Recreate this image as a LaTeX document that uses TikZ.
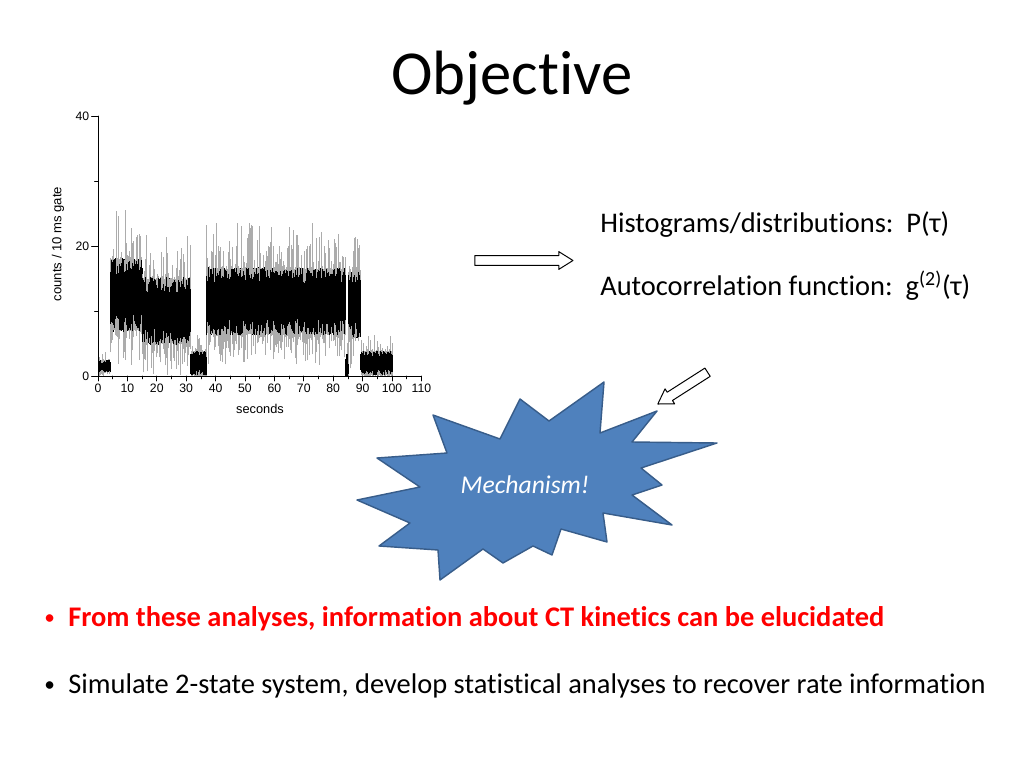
\documentclass[tikz,border=0pt]{standalone}
\usepackage{fontspec}
\setmainfont{Carlito}[Ligatures=CommonOff]
\newfontfamily\plotfont{Liberation Sans}
\usetikzlibrary{shapes.arrows}
\definecolor{burstfill}{RGB}{79,129,189}
\definecolor{burstline}{RGB}{56,93,138}
\begin{document}
\begin{tikzpicture}[x=0.703125pt, y=-0.703125pt, line join=round, line cap=round,
	hollow/.style={single arrow, draw, line width=0.7pt, fill=white, minimum width=12pt,
		minimum height=#1, inner sep=3.1pt, single arrow head extend=2.8pt, single arrow tip angle=64},
	tick/.style={font=\plotfont\fontsize{8.6}{10}\selectfont, inner sep=1.5pt},
	body/.style={anchor=base west, font=\fontsize{20}{24}\selectfont, inner sep=0pt}]
	\fill[white] (0,0) rectangle (1024,768);
	\useasboundingbox (0,0) rectangle (1024,768);
	\pgfmathsetseed{42}
	% trace: seconds along x, counts along y
	\begin{scope}[shift={(98,376)}, x=2.067pt, y=4.570pt]
		\foreach \i in {0,...,999}{
			\pgfmathsetmacro\t{0.1*\i+0.05}
			\pgfmathsetmacro\lvl{\t<4.2 ? 1.5 : (\t<15 ? 12.5 : (\t<31.3 ? 10 : (\t<36.8 ? 2 : (\t<84.2 ? 11.5 : (\t<85 ? 1.5 : (\t<89.3 ? 11 : 2))))))}
			\pgfmathsetmacro\wid{\t<4.2 ? 1 : (\lvl<3 ? 2 : (\t<15 ? 6 : 5.5))}
			\pgfmathtruncatemacro\spike{mod(\i,3)==0}
			\ifnum\spike=1
			\pgfmathsetmacro\glo{max(0,\lvl-\wid*(0.9+0.9*rnd^2))}
			\pgfmathsetmacro\ghi{\lvl+\wid*(0.9+1.3*rnd^3)}
			\draw[gray!65, line width=0.3pt, line cap=butt] (\t,\glo) -- (\t,\ghi);
			\fi
			\pgfmathsetmacro\blo{max(0,\lvl-\wid*(0.5+0.45*rnd))}
			\pgfmathsetmacro\bhi{\lvl+\wid*(0.5+0.45*rnd)}
			\draw[black, line width=0.3pt, line cap=butt] (\t,\blo) -- (\t,\bhi);
		}
		\draw[line width=0.5pt] (0,40) -- (0,0) -- (110,0);
		\foreach \v in {0,20,40}
		\draw[line width=0.5pt] (0,\v) -- ++(-4.5pt,0) node[left, tick] (ylab\v) {\v};
		\foreach \v in {10,30}
		\draw[line width=0.5pt] (0,\v) -- ++(-2.5pt,0);
		\foreach \v in {0,10,...,110}
		\draw[line width=0.5pt] (\v,0) -- ++(0,-3.5pt) node[below, tick] (xlab\v) {\v};
		\foreach \v in {5,15,...,105}
		\draw[line width=0.5pt] (\v,0) -- ++(0,-2pt);
	\end{scope}
	\path
	(58,244) node[rotate=90, font=\plotfont\fontsize{9.2}{10}\selectfont] (ytitle) {counts / 10 ms gate}
	(260,409) node[font=\plotfont\fontsize{9}{10}\selectfont] (xtitle) {seconds};
	\node[anchor=base, font=\fontsize{44}{50}\selectfont, inner sep=0pt] (title) at (512,95) {Objective};
	\path
	(600,233) node[body] (hist) {Histograms/distributions:\ \ P(τ)}
	(600,296) node[body] (acf) {Autocorrelation function:\ \ g\textsuperscript{(2)}(τ)};
	\node[hollow=69pt] (toright) at (520,260.5) {};
	\node[hollow=41.5pt, rotate=212.6] (todown) at (686,386) {};
	% burst
	\draw[fill=burstfill, draw=burstline, line width=1pt]
	(433,415) -- (500,439) -- (520,399) -- (549,421) -- (604,382) -- (600,433) -- (657,411)
	-- (632,442) -- (717,443) -- (641,468) -- (662,485) -- (632,495) -- (672,525) -- (603,513)
	-- (607,542) -- (561,529) -- (552,555) -- (533,546) -- (503,563) -- (483,549) -- (440,580)
	-- (438,550) -- (379,546) -- (410,523) -- (357,500) -- (420,487) -- (377,458) -- (447,453) -- cycle;
	\node[anchor=base, text=white, font=\fontsize{18}{22}\selectfont\itshape, inner sep=0pt] (mech) at (525,493) {Mechanism!};
	\path
	(44,624) node[body, text=red, font=\fontsize{15}{18}\selectfont] (dot1) {•}
	(68,626) node[body, text=red, font=\fontsize{20}{24}\selectfont\bfseries] (item1) {From these analyses, information about CT kinetics can be elucidated}
	(44,691) node[body, font=\fontsize{15}{18}\selectfont] (dot2) {•}
	(68,693) node[body] (item2) {Simulate 2-state system, develop statistical analyses to recover rate information};
\end{tikzpicture}
\end{document}
